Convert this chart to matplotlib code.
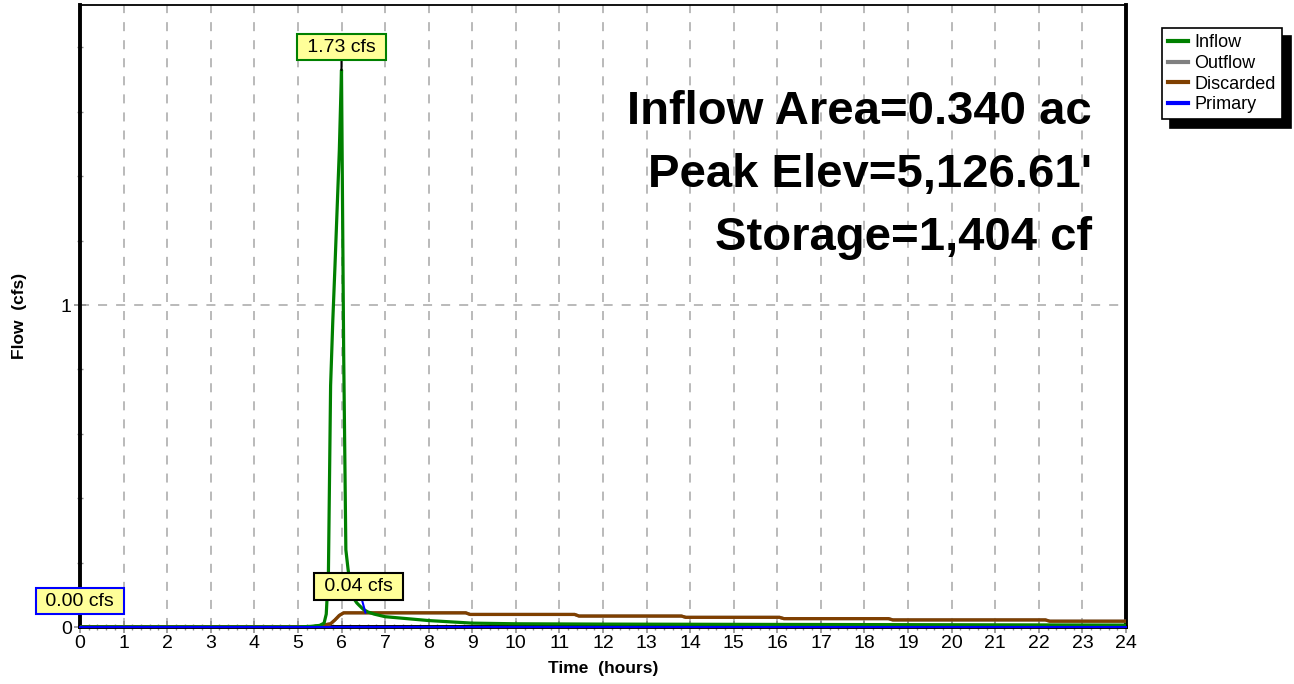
import matplotlib
matplotlib.use("Agg")
import matplotlib.pyplot as plt
from matplotlib.ticker import MultipleLocator
import numpy as np

plt.rcParams['font.family'] = ['Liberation Sans', 'DejaVu Sans']

# Inflow hydrograph (hours, cfs)
inflow_t = [0, 5.0, 5.3, 5.5, 5.6, 5.65, 5.7, 5.75, 5.8, 5.85, 5.9, 5.95, 6.0,
            6.05, 6.1, 6.15, 6.2, 6.25, 6.3, 6.35, 6.4, 6.5, 6.6, 6.75, 7.0,
            7.5, 8.0, 8.5, 9.0, 9.5, 10, 12, 16, 20, 24]
inflow_q = [0, 0, 0.002, 0.005, 0.012, 0.04, 0.17, 0.75, 0.95, 1.12, 1.30, 1.48, 1.73,
            0.85, 0.24, 0.18, 0.13, 0.10, 0.085, 0.075, 0.068, 0.055, 0.047, 0.040, 0.032,
            0.026, 0.020, 0.016, 0.012, 0.011, 0.010, 0.009, 0.008, 0.007, 0.006]

# Discarded (exfiltration) hydrograph
disc_t = [0, 5.3, 5.5, 5.75, 5.85, 5.95, 6.05, 8.85, 8.95, 11.35, 11.45, 13.8, 13.9,
          16.05, 16.15, 18.55, 18.65, 22.15, 22.25, 24]
disc_q = [0, 0, 0.004, 0.010, 0.022, 0.036, 0.044, 0.044, 0.039, 0.039, 0.034, 0.034, 0.030,
          0.030, 0.026, 0.026, 0.022, 0.022, 0.018, 0.018]

# Primary outlet never flows
prim_t = [0, 24]
prim_q = [0, 0]

# Outflow = discarded + primary
out_t = disc_t
out_q = list(np.array(disc_q) + np.interp(disc_t, prim_t, prim_q))

notes = ["Inflow Area=0.340 ac", "Peak Elev=5,126.61'", "Storage=1,404 cf"]

fig = plt.figure(figsize=(12.94, 6.84), dpi=100)
ax = fig.add_axes([80 / 1294, 57 / 684, 1046 / 1294, 622 / 684])

ax.plot(out_t, out_q, color='#808080', lw=2.3, label='Outflow', zorder=3)
ax.plot(disc_t, disc_q, color='#7f3f00', lw=2.3, label='Discarded', zorder=4)
ax.plot(prim_t, prim_q, color='#0000ff', lw=1.5, label='Primary', zorder=6, clip_on=False)
ax.plot(inflow_t, inflow_q, color='#008000', lw=2.3, label='Inflow', zorder=5)

ax.set_xlim(0, 24)
ax.set_ylim(0, 1.932)
ax.xaxis.set_major_locator(MultipleLocator(1))
ax.xaxis.set_minor_locator(MultipleLocator(0.2))
ax.yaxis.set_major_locator(MultipleLocator(1))
ax.yaxis.set_minor_locator(MultipleLocator(0.2))
ax.tick_params(which='major', direction='inout', length=8, width=1.2, color='#909090',
               labelsize=14, pad=2)
ax.tick_params(which='minor', direction='inout', length=5, width=1, color='#909090')
ax.grid(True, which='major', color='#b4b4b4', ls=(0, (5, 5)), lw=1.3)

for side in ['left', 'bottom', 'right']:
    ax.spines[side].set_linewidth(2.8)
ax.spines['top'].set_linewidth(1.3)

ax.set_xlabel('Time  (hours)', fontsize=12.5, fontweight='bold', labelpad=6)
ax.set_ylabel('Flow  (cfs)', fontsize=12.5, fontweight='bold', labelpad=24)

# peak value tags
box_kw = dict(fontsize=14, ha='center', va='center', textcoords='offset pixels', zorder=10)
i_pk = int(np.argmax(inflow_q))
ax.annotate(f" {inflow_q[i_pk]:.2f} cfs ", xy=(inflow_t[i_pk], inflow_q[i_pk]), xytext=(0, 23),
            bbox=dict(boxstyle='square,pad=0.25', fc='#ffff99', ec='#008000', lw=1.5),
            arrowprops=dict(arrowstyle='-', color='black', lw=1.5, shrinkA=0, shrinkB=0),
            **box_kw)
d_pk = max(out_q)
ax.annotate(f" {d_pk:.2f} cfs ", xy=(6.55, d_pk), xytext=(-7, 26),
            bbox=dict(boxstyle='square,pad=0.25', fc='#ffff99', ec='black', lw=1.5),
            arrowprops=dict(arrowstyle='-', color='#0000ff', lw=1.5, shrinkA=0, shrinkB=0),
            annotation_clip=False, **box_kw)
ax.annotate(f" {max(prim_q):.2f} cfs ", xy=(0, max(prim_q)), xytext=(0, 26),
            bbox=dict(boxstyle='square,pad=0.25', fc='#ffff99', ec='#0000ff', lw=1.5),
            annotation_clip=False, **box_kw)

for k, line in enumerate(notes):
    ax.text(1092 / 1294, 1 - (112 + 63 * k) / 684, line, transform=fig.transFigure,
            ha='right', va='center', fontsize=34, fontweight='bold', zorder=8)

handles, labels = ax.get_legend_handles_labels()
order = ['Inflow', 'Outflow', 'Discarded', 'Primary']
hmap = dict(zip(labels, handles))
leg = fig.legend([hmap[n] for n in order], order, loc='upper left',
                 bbox_to_anchor=(1162 / 1294, 1 - 28 / 684), fontsize=13,
                 frameon=True, fancybox=False, handlelength=1.1, handletextpad=0.35,
                 labelspacing=0.2, borderpad=0.35, borderaxespad=0,
                 shadow={'color': 'black', 'alpha': 1, 'ox': 6, 'oy': -6})
leg.get_frame().set_edgecolor('black')
leg.get_frame().set_linewidth(1.2)
for lh in leg.get_lines():
    lh.set_linewidth(3)

fig.savefig('out.png', dpi=100)
